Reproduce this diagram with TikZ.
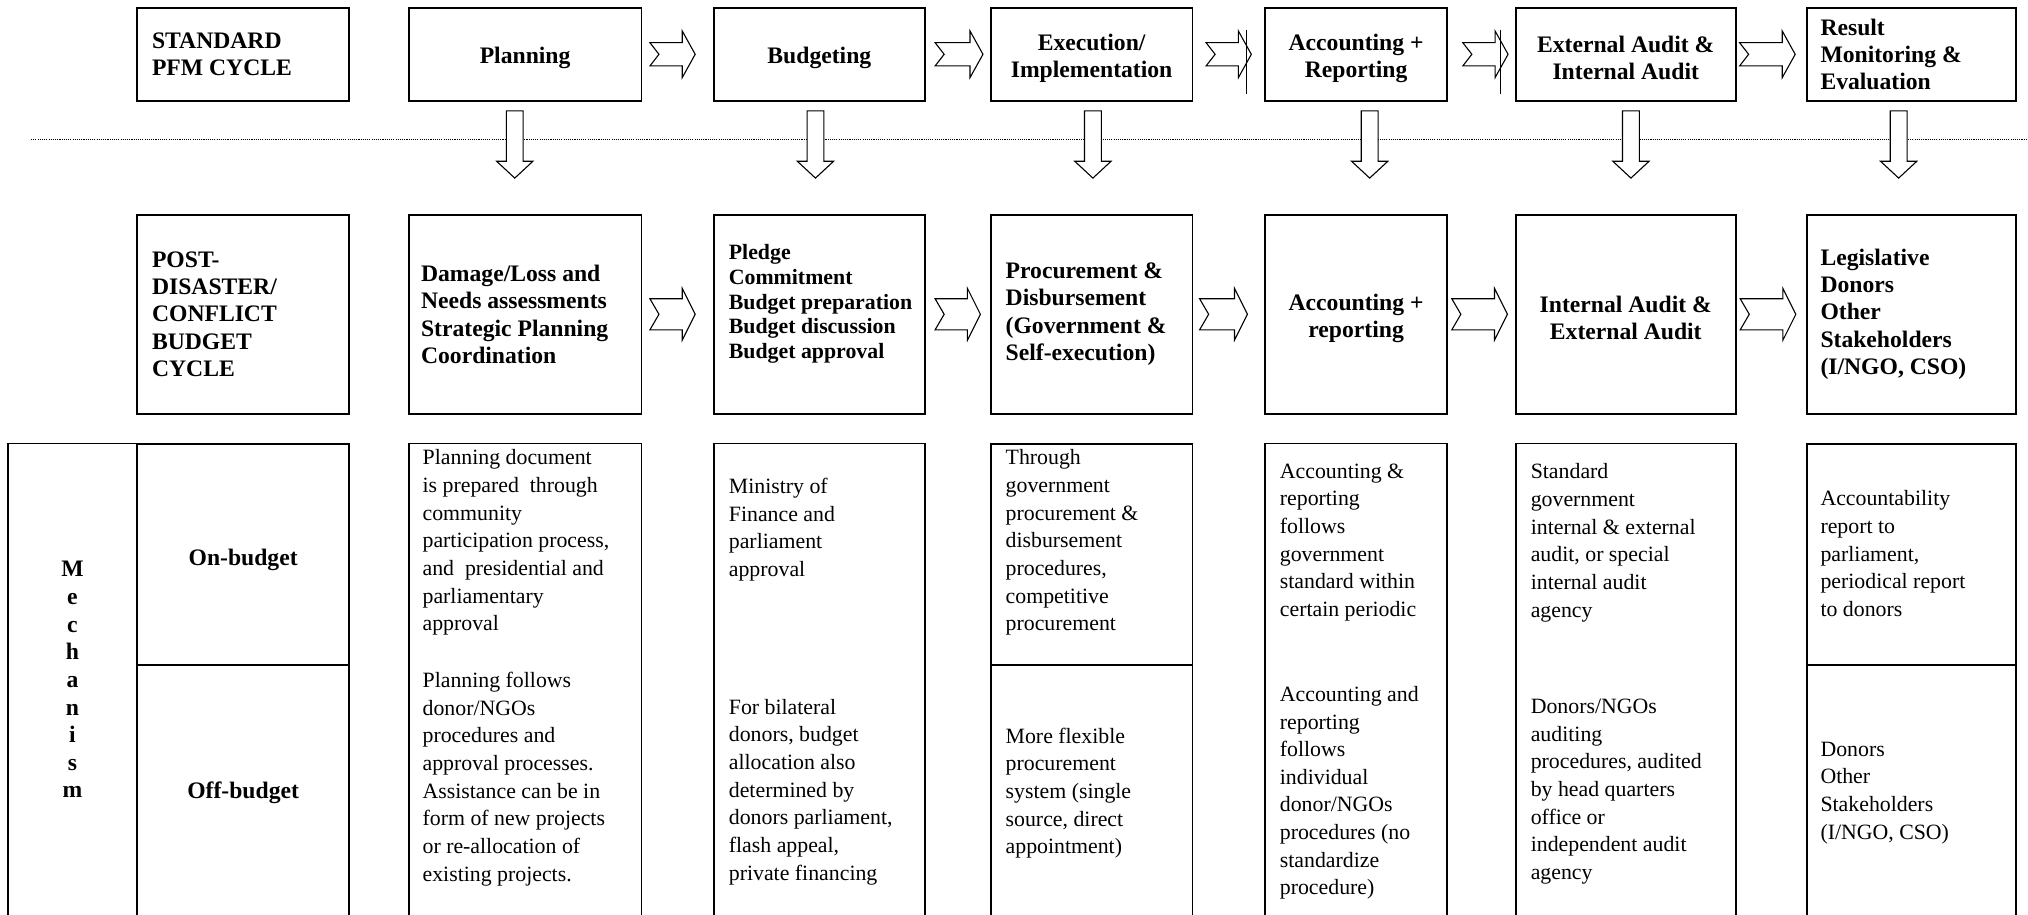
\documentclass[tikz,border=0pt]{standalone}
\usepackage{fontspec}
\setmainfont{Liberation Serif}
\usetikzlibrary{positioning, calc}

\newcommand\hdfont{\bfseries\fontsize{13}{15}\selectfont}
\newcommand\bdfont{\fontsize{12}{15.2}\selectfont}

\tikzset{
  box/.style={draw, line width=1pt, inner sep=0pt},
  hdtext/.style={inner sep=0pt, font=\hdfont, align=left},
  ctext/.style={inner sep=0pt, font=\hdfont, align=center, yshift=-0.075cm},
  bdtext/.style={inner sep=0pt, font=\bdfont, align=left},
  blockarrow/.style={draw, fill=white, line width=0.6pt, line join=miter},
  dotline/.style={line width=0.6pt, dash pattern=on 0.6pt off 0.6pt},
  pics/toparrow/.style={code={
    \draw[blockarrow] ({-#1/2},-9) -- ({#1/2-10},-9) -- ({#1/2-10},-18) -- ({#1/2},0)
      -- ({#1/2-10},18) -- ({#1/2-10},9) -- ({-#1/2},9) -- ({-#1/2+7},0) -- cycle;}},
  pics/midarrow/.style={code={
    \draw[blockarrow] ({-#1/2},-12) -- ({#1/2-10},-12) -- ({#1/2-10},-20) -- ({#1/2},0)
      -- ({#1/2-10},20) -- ({#1/2-10},12) -- ({-#1/2},12) -- ({-#1/2+7},0) -- cycle;}},
  pics/downarrow/.style={code={
    \draw[blockarrow] (-6.5,0) -- (6.5,0) -- (6.5,39) -- (14,39) -- (0,52) -- (-14,39)
      -- (-6.5,39) -- cycle;}},
}

\begin{document}
\begin{tikzpicture}[x=0.025cm, y=-0.025cm]
\useasboundingbox (0,0) rectangle (1568,707);
\clip (0,0) rectangle (1568,707);

% standard cycle
\node[box, minimum width=4.1cm, minimum height=1.8cm] (std) at (188,42) {};
\node[hdtext, right=0.3cm of std.west] (stdt) {STANDARD\\PFM CYCLE};
\node[box, minimum width=4.5cm, minimum height=1.8cm] (plan) at (406,42) {};
\node[ctext] (plant) at (plan.center) {Planning};
\node[box, minimum width=4.075cm, minimum height=1.8cm] (budg) at (633.5,42) {};
\node[ctext] (budgt) at (budg.center) {Budgeting};
\node[box, minimum width=3.9cm, minimum height=1.8cm] (exec) at (844,42) {};
\node[ctext] (exect) at (exec.center) {Execution/\\Implementation};
\node[box, minimum width=3.525cm, minimum height=1.8cm] (acct) at (1048.5,42) {};
\node[ctext] (acctt) at (acct.center) {Accounting +\\Reporting};
\node[box, minimum width=4.25cm, minimum height=1.8cm] (audit) at (1257,42) {};
\node[ctext] (auditt) at (audit.center) {External Audit \&\\Internal Audit};
\node[box, minimum width=4.05cm, minimum height=1.8cm] (result) at (1478,42) {};
\node[hdtext, right=0.275cm of result.west] (resultt) {Result\\Monitoring \&\\Evaluation};

\coordinate (a1) at ($(plan.east)!0.5!(budg.west)+(-4,0)$);
\coordinate (a2) at ($(budg.east)!0.5!(exec.west)+(1,0)$);
\coordinate (a3) at ($(exec.east)!0.5!(acct.west)$);
\coordinate (a4) at ($(acct.east)!0.5!(audit.west)+(3,0)$);
\coordinate (a5) at ($(audit.east)!0.5!(result.west)+(-3,0)$);
\pic at (a1) {toparrow=35};
\pic at (a2) {toparrow=37};
\pic at (a3) {toparrow=35};
\pic at (a4) {toparrow=35};
\pic at (a5) {toparrow=43};
\draw[line width=0.6pt] ($(a3)+(14,-19)$) -- ($(a3)+(14,31)$);
\draw[line width=0.6pt] ($(a4)+(11.5,-19)$) -- ($(a4)+(11.5,31)$);

% divider
\draw[dotline] (24,108) -- (1568,108);
\pic at ($(plan.south)+(-8,7)$) {downarrow};
\pic at ($(budg.south)+(-3,7)$) {downarrow};
\pic at ($(exec.south)+(1,7)$) {downarrow};
\pic at ($(acct.south)+(10.5,7)$) {downarrow};
\pic at ($(audit.south)+(4,7)$) {downarrow};
\pic at ($(result.south)+(-10,7)$) {downarrow};

% post-disaster cycle
\node[box, minimum width=4.1cm, minimum height=3.85cm] (post) at (188,243) {};
\node[hdtext, right=0.3cm of post.west] (postt) {POST-\\DISASTER/\\CONFLICT\\BUDGET\\CYCLE};
\node[box, minimum width=4.5cm, minimum height=3.85cm] (damage) at (406,243) {};
\node[hdtext, right=0.25cm of damage.west] (damaget) {Damage/Loss and\\Needs assessments\\Strategic Planning\\Coordination};
\node[box, minimum width=4.075cm, minimum height=3.85cm] (pledge) at (633.5,243) {};
\node[hdtext, font=\bfseries\fontsize{12}{13.5}\selectfont, right=0.3cm of pledge.west, yshift=0.2cm] (pledget)
  {Pledge\\Commitment\\Budget preparation\\Budget discussion\\Budget approval};
\node[box, minimum width=3.9cm, minimum height=3.85cm] (procure) at (844,243) {};
\node[hdtext, right=0.3cm of procure.west] (procuret) {Procurement \&\\Disbursement\\(Government \&\\Self-execution)};
\node[box, minimum width=3.525cm, minimum height=3.85cm] (acctrep) at (1048.5,243) {};
\node[ctext] (acctrept) at (acctrep.center) {Accounting +\\reporting};
\node[box, minimum width=4.25cm, minimum height=3.85cm] (intaudit) at (1257,243) {};
\node[ctext] (intauditt) at (intaudit.center) {Internal Audit \&\\External Audit};
\node[box, minimum width=4.05cm, minimum height=3.85cm] (legis) at (1478,243) {};
\node[hdtext, right=0.275cm of legis.west] (legist) {Legislative\\Donors\\Other\\Stakeholders\\(I/NGO, CSO)};

\pic at ($(damage.east)!0.5!(pledge.west)+(-4,0)$) {midarrow=35};
\pic at ($(pledge.east)!0.5!(procure.west)$) {midarrow=35};
\pic at ($(procure.east)!0.5!(acctrep.west)+(-4,0)$) {midarrow=37};
\pic at ($(acctrep.east)!0.5!(intaudit.west)+(-1.5,0)$) {midarrow=43};
\pic at ($(intaudit.east)!0.5!(legis.west)+(-2.5,0)$) {midarrow=43};

% mechanism
\node[box, minimum width=2.5cm, minimum height=10.425cm] (mech) at (56,551.5) {};
\node[hdtext, align=center, font=\bfseries\fontsize{13}{15.2}\selectfont] (mecht) at (56,525.5) {M\\e\\c\\h\\a\\n\\i\\s\\m};
\node[box, minimum width=4.1cm, minimum height=4.275cm] (onb) at (188,428.5) {};
\node[ctext, yshift=-0.03cm] (ont) at (onb.center) {On-budget};
\node[box, minimum width=4.1cm, minimum height=6.15cm] (offb) at (188,637) {};
\node[hdtext, below=2.27cm of offb.north] (offt) {Off-budget};

\node[box, minimum width=4.5cm, minimum height=10.425cm] (planb) at (406,551.5) {};
\node[bdtext, below right=0.13cm and 0.28cm of planb.north west] (planup)
  {Planning document\\is prepared~ through\\community\\participation process,\\and~ presidential and\\parliamentary\\approval};
\node[bdtext, below right=4.43cm and 0.28cm of planb.north west] (plandown)
  {Planning follows\\donor/NGOs\\procedures and\\approval processes.\\Assistance can be in\\form of new projects\\or re-allocation of\\existing projects.};

\node[box, minimum width=4.075cm, minimum height=10.425cm] (budgb) at (633.5,551.5) {};
\node[bdtext, below right=0.68cm and 0.3cm of budgb.north west] (budgup)
  {Ministry of\\Finance and\\parliament\\approval};
\node[bdtext, below right=4.95cm and 0.3cm of budgb.north west] (budgdown)
  {For bilateral\\donors, budget\\allocation also\\determined by\\donors parliament,\\flash appeal,\\private financing};

\node[box, minimum width=3.9cm, minimum height=4.275cm] (execon) at (844,428.5) {};
\node[box, minimum width=3.9cm, minimum height=6.15cm] (execoff) at (844,637) {};
\node[bdtext, below right=0.13cm and 0.3cm of execon.north west] (execup)
  {Through\\government\\procurement \&\\disbursement\\procedures,\\competitive\\procurement};
\node[bdtext, below right=1.23cm and 0.3cm of execoff.north west] (execdown)
  {More flexible\\procurement\\system (single\\source, direct\\appointment)};

\node[box, minimum width=3.525cm, minimum height=10.425cm] (acctb) at (1048.5,551.5) {};
\node[bdtext, below right=0.4cm and 0.3cm of acctb.north west] (acctup)
  {Accounting \&\\reporting\\follows\\government\\standard within\\certain periodic};
\node[bdtext, below right=4.7cm and 0.3cm of acctb.north west] (acctdown)
  {Accounting and\\reporting\\follows\\individual\\donor/NGOs\\procedures (no\\standardize\\procedure)};

\node[box, minimum width=4.25cm, minimum height=10.425cm] (auditb) at (1257,551.5) {};
\node[bdtext, below right=0.4cm and 0.3cm of auditb.north west] (auditup)
  {Standard\\government\\internal \& external\\audit, or special\\internal audit\\agency};
\node[bdtext, below right=4.95cm and 0.3cm of auditb.north west] (auditdown)
  {Donors/NGOs\\auditing\\procedures, audited\\by head quarters\\office or\\independent audit\\agency};

\node[box, minimum width=4.05cm, minimum height=4.275cm] (reson) at (1478,428.5) {};
\node[box, minimum width=4.05cm, minimum height=6.15cm] (resoff) at (1478,637) {};
\node[bdtext, below right=0.92cm and 0.275cm of reson.north west] (resup)
  {Accountability\\report to\\parliament,\\periodical report\\to donors};
\node[bdtext, below right=1.5cm and 0.275cm of resoff.north west] (resdown)
  {Donors\\Other\\Stakeholders\\(I/NGO, CSO)};
\end{tikzpicture}
\end{document}
